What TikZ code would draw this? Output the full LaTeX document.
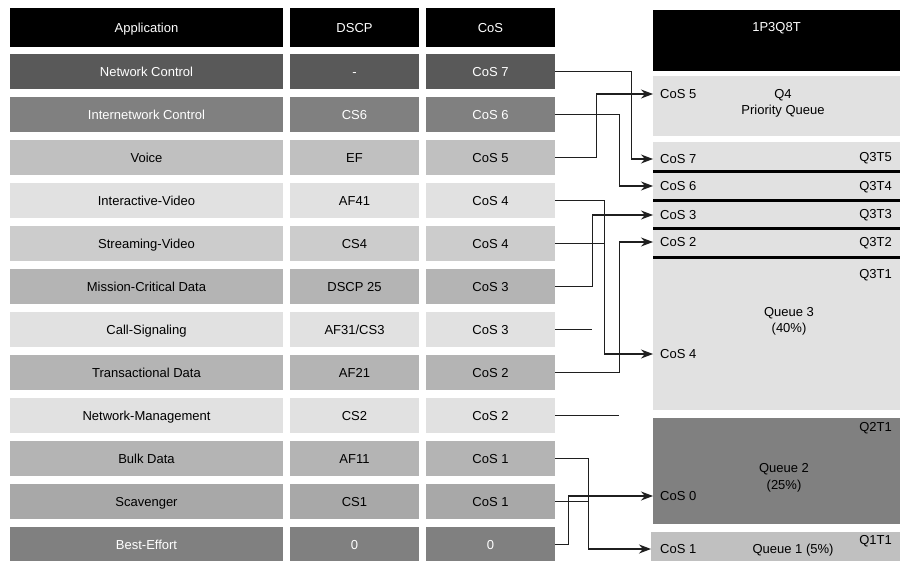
\documentclass[tikz,border=0pt]{standalone}
\usepackage{fontspec}
\setmainfont{Liberation Sans}
\usetikzlibrary{arrows.meta,calc}
\definecolor{cDark}{HTML}{595959}
\definecolor{cMid}{HTML}{808080}
\definecolor{cVoice}{HTML}{C0C0C0}
\definecolor{cLight}{HTML}{E1E1E1}
\definecolor{cStream}{HTML}{CCCCCC}
\definecolor{cGray}{HTML}{B4B4B4}
\definecolor{cScav}{HTML}{A8A8A8}
\newcommand\qrow[6]{%
  \node[cell,minimum width=273pt,fill=#5,text=#6] (app#1) at (146.5,{71.5+(#1-1)*43}) {#2};
  \node[cell,minimum width=129pt,fill=#5,text=#6] (dscp#1) at (354.5,{71.5+(#1-1)*43}) {#3};
  \node[cell,minimum width=129pt,fill=#5,text=#6] (cos#1) at (490.5,{71.5+(#1-1)*43}) {#4};
}
\begin{document}
\begin{tikzpicture}[x=1pt,y=-1pt,
  font=\fontsize{13}{15}\selectfont,
  txt/.style={text height=9.4pt,text depth=0pt},
  cell/.style={txt,minimum height=35pt,inner sep=0pt,anchor=center},
  hcell/.style={cell,minimum height=39pt,fill=black,text=white},
  qbox/.style={inner sep=0pt,anchor=center},
  llab/.style={txt,anchor=west,inner xsep=7pt,inner ysep=0pt},
  rlab/.style={txt,anchor=east,inner xsep=8pt,inner ysep=0pt},
  clab/.style={txt,anchor=center,inner sep=0pt},
  conn/.style={line width=1.2pt,black!88},
  arr/.style={conn,-{Stealth[length=12pt,width=9pt]}},
  sep/.style={line width=3pt,black}]
\useasboundingbox (0,0) rectangle (901,561);
% headers
\node[hcell,minimum width=273pt] (happ) at (146.5,27.5) {Application};
\node[hcell,minimum width=129pt] (hdscp) at (354.5,27.5) {DSCP};
\node[hcell,minimum width=129pt] (hcos) at (490.5,27.5) {CoS};
% rows
\qrow{1}{Network Control}{-}{CoS 7}{cDark}{white}
\qrow{2}{Internetwork Control}{CS6}{CoS 6}{cMid}{white}
\qrow{3}{Voice}{EF}{CoS 5}{cVoice}{black}
\qrow{4}{Interactive-Video}{AF41}{CoS 4}{cLight}{black}
\qrow{5}{Streaming-Video}{CS4}{CoS 4}{cStream}{black}
\qrow{6}{Mission-Critical Data}{DSCP 25}{CoS 3}{cGray}{black}
\qrow{7}{Call-Signaling}{AF31/CS3}{CoS 3}{cLight}{black}
\qrow{8}{Transactional Data}{AF21}{CoS 2}{cGray}{black}
\qrow{9}{Network-Management}{CS2}{CoS 2}{cLight}{black}
\qrow{10}{Bulk Data}{AF11}{CoS 1}{cGray}{black}
\qrow{11}{Scavenger}{CS1}{CoS 1}{cScav}{black}
\qrow{12}{Best-Effort}{0}{0}{cMid}{white}
% queue structure
\node[qbox,fill=black,minimum width=247pt,minimum height=61pt] (hq) at (776.5,40.5) {};
\node[clab,text=white] (hqt) at (776.5,27) {1P3Q8T};
\node[qbox,fill=cLight,minimum width=247pt,minimum height=60pt] (q4) at (776.5,106) {};
\node[qbox,fill=cLight,minimum width=247pt,minimum height=268pt] (q3) at (776.5,276) {};
\node[qbox,fill=cMid,minimum width=247pt,minimum height=106pt] (q2) at (776.5,471) {};
\node[qbox,fill=cVoice,minimum width=249pt,minimum height=29pt] (q1) at (775.5,546.5) {};
\draw[sep] (653,172) -- (900,172);
\draw[sep] (653,201) -- (900,201);
\draw[sep] (653,229) -- (900,229);
\draw[sep] (653,257) -- (900,257);
% queue labels
\node[llab] (l5) at (653,94) {CoS 5};
\node[clab] (q4t) at (783,94) {Q4};
\node[clab] (q4p) at (783,110) {Priority Queue};
\node[llab] (l7) at (653,159) {CoS 7};
\node[rlab] (t5) at (900,157) {Q3T5};
\node[llab] (l6) at (653,186) {CoS 6};
\node[rlab] (t4) at (900,186) {Q3T4};
\node[llab] (l3) at (653,215) {CoS 3};
\node[rlab] (t3) at (900,214) {Q3T3};
\node[llab] (l2) at (653,242) {CoS 2};
\node[rlab] (t2) at (900,242) {Q3T2};
\node[rlab] (t1) at (900,274) {Q3T1};
\node[clab] (q3t) at (789,312) {Queue 3};
\node[clab] (q3p) at (789,328) {(40\%)};
\node[llab] (l4) at (653,354) {CoS 4};
\node[rlab] (q2t1) at (900,427) {Q2T1};
\node[clab] (q2t) at (784,468) {Queue 2};
\node[clab] (q2p) at (784,485) {(25\%)};
\node[llab] (l0) at (653,496) {CoS 0};
\node[rlab] (q1t1) at (900,540) {Q1T1};
\node[llab,inner xsep=9pt] (l1) at (651,549) {CoS 1};
\node[clab] (q1t) at (793,549) {Queue 1 (5\%)};
% connectors
\draw[arr] (cos1.east) -- ++(76,0) |- (l7.west);
\draw[arr] (cos2.east) -- ++(64,0) |- (l6.west);
\draw[arr] (cos3.east) -- ++(41,0) |- (l5.west);
\draw[arr] (cos4.east) -- ++(49,0) |- (l4.west);
\draw[conn] (cos5.east) -- ++(49,0);
\draw[arr] (cos6.east) -- ++(37,0) |- (l3.west);
\draw[conn] (cos7.east) -- ++(37,0);
\draw[arr] (cos8.east) -- ++(64,0) |- (l2.west);
\draw[conn] (cos9.east) -- ++(64,0);
\draw[arr] (cos10.east) -- ++(33,0) |- (l1.west);
\draw[conn] (cos11.east) -- ++(33,0);
\draw[arr] (cos12.east) -- ++(13,0) |- (l0.west);
\end{tikzpicture}
\end{document}
